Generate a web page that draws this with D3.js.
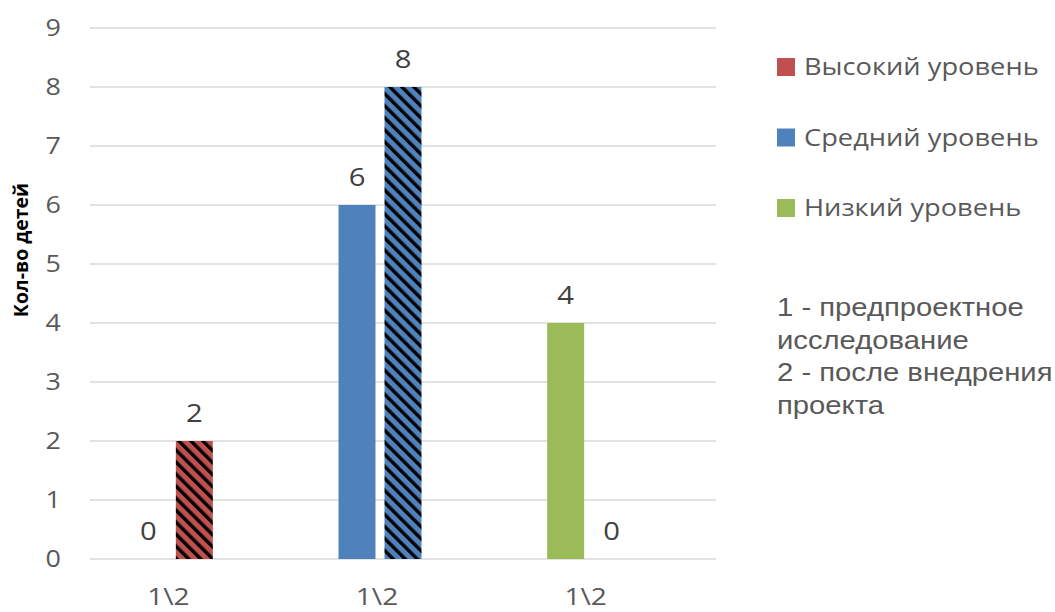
<!DOCTYPE html>
<html>
<head>
<meta charset="utf-8">
<script src="https://cdn.jsdelivr.net/npm/d3@7"></script>
<style>
  body { margin: 0; background: #fff; }
  text { font-family: "Open Sans", sans-serif; }
</style>
</head>
<body>
<div id="viz"></div>
<script>
var width = 1055,
  height = 612;

// data
var levels = ['Высокий уровень', 'Средний уровень', 'Низкий уровень'];
var before = [0, 6, 4];   // 1 - предпроектное исследование
var after = [2, 8, 0];    // 2 - после внедрения проекта
var catLabels = ['1\\2', '1\\2', '1\\2'];
var yTicks = [0, 1, 2, 3, 4, 5, 6, 7, 8, 9];
var colors = ['#c0504d', '#4f81bd', '#9bbb59'];
var noteLines = ['1 - предпроектное', 'исследование', '2 - после внедрения', 'проекта'];

var margin = { left: 90, right: 339, top: 28, bottom: 53 };
// the picture's text looks stretched sideways
var sx = 1.17;

function place(x, y) {
  return 'translate(' + x + ',' + y + ') scale(' + sx + ',1)';
}

var svg = d3.select('#viz').append('svg')
  .attr('width', width)
  .attr('height', height);

var defs = svg.append('defs');

colors.forEach(function (c, i) {
  var p = defs.append('pattern')
    .attr('id', 'hatch' + i)
    .attr('patternUnits', 'userSpaceOnUse')
    .attr('width', 8.5)
    .attr('height', 8.5)
    .attr('patternTransform', 'rotate(-45)');
  p.append('rect').attr('width', 8.5).attr('height', 8.5).attr('fill', c);
  p.append('rect').attr('x', 0).attr('width', 3.4).attr('height', 8.5).attr('fill', '#000');
});

var x = d3.scaleBand()
  .domain(d3.range(levels.length))
  .range([margin.left, width - margin.right])
  .padding(0);

// three slots per group, the third one stays empty
var xs = d3.scaleBand()
  .domain(['1', '2', '3'])
  .range([0, x.bandwidth()])
  .paddingInner(0.196)
  .paddingOuter(0.866);

var y = d3.scaleLinear()
  .domain([0, 9])
  .range([height - margin.bottom, margin.top]);

// grid
svg.append('g')
  .selectAll('line')
  .data(yTicks)
  .enter().append('line')
  .attr('x1', margin.left)
  .attr('x2', width - margin.right)
  .attr('y1', function (d) { return y(d); })
  .attr('y2', function (d) { return y(d); })
  .attr('stroke', '#d9d9d9')
  .attr('stroke-width', 1.5);

// y tick labels
svg.append('g')
  .selectAll('text')
  .data(yTicks)
  .enter().append('text')
  .attr('transform', function (d) { return place(61, y(d)); })
  .attr('dy', '0.36em')
  .attr('text-anchor', 'end')
  .attr('fill', '#595959')
  .attr('font-size', 23)
  .text(function (d) { return d; });

// y title
svg.append('text')
  .attr('transform', 'translate(28,' + 250 + ') rotate(-90)')
  .attr('text-anchor', 'middle')
  .attr('font-weight', 'bold')
  .attr('font-size', 19.5)
  .attr('fill', '#000')
  .text('Кол-во детей');

var bars = [];
levels.forEach(function (l, i) {
  bars.push({ cat: i, slot: '1', value: before[i], fill: colors[i] });
  bars.push({ cat: i, slot: '2', value: after[i], fill: 'url(#hatch' + i + ')' });
});

svg.append('g')
  .selectAll('rect')
  .data(bars.filter(function (d) { return d.value > 0; }))
  .enter().append('rect')
  .attr('x', function (d) { return x(d.cat) + xs(d.slot); })
  .attr('width', xs.bandwidth())
  .attr('y', function (d) { return y(d.value); })
  .attr('height', function (d) { return y(0) - y(d.value); })
  .attr('fill', function (d) { return d.fill; });

// value labels
svg.append('g')
  .selectAll('text')
  .data(bars)
  .enter().append('text')
  .attr('transform', function (d) {
    return place(x(d.cat) + xs(d.slot) + xs.bandwidth() / 2, y(d.value) - 19);
  })
  .attr('text-anchor', 'middle')
  .attr('fill', '#404040')
  .attr('font-size', 25)
  .text(function (d) { return d.value; });

// category labels
svg.append('g')
  .selectAll('text')
  .data(catLabels)
  .enter().append('text')
  .attr('transform', function (d, i) {
    return place(x(i) + (xs('1') + xs('2') + xs.bandwidth()) / 2 - 3, 605);
  })
  .attr('text-anchor', 'middle')
  .attr('fill', '#595959')
  .attr('font-size', 24)
  .text(function (d) { return d; });

// legend
var legend = svg.append('g')
  .selectAll('g')
  .data(levels)
  .enter().append('g')
  .attr('transform', function (d, i) { return 'translate(777,' + (67 + i * 70.5) + ')'; });

legend.append('rect')
  .attr('y', -9)
  .attr('width', 18)
  .attr('height', 18)
  .attr('fill', function (d, i) { return colors[i]; });

legend.append('text')
  .attr('transform', place(27, 0))
  .attr('dy', '0.36em')
  .attr('fill', '#595959')
  .attr('font-size', 23.3)
  .text(function (d) { return d; });

svg.append('g')
  .selectAll('text')
  .data(noteLines)
  .enter().append('text')
  .attr('transform', function (d, i) { return place(777, 307 + i * 32.5); })
  .attr('dy', '0.36em')
  .attr('fill', '#595959')
  .attr('font-size', 25)
  .style('font-family', '"Liberation Sans", Arial, sans-serif')
  .text(function (d) { return d; });
</script>
</body>
</html>
